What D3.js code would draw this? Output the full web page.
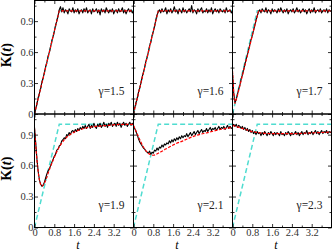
<!DOCTYPE html>
<html>
<head>
<meta charset="utf-8">
<script src="https://cdn.jsdelivr.net/npm/d3@7"></script>
<style>
  body { margin: 0; background: #fff; }
  svg { display: block; }
  svg text { font-family: "Liberation Serif", serif; }
  .tick line { stroke: #000; stroke-width: 0.8; }
</style>
</head>
<body>
<svg id="chart" width="332" height="252"></svg>
<script>
// sampling step of the measured curves (t axis)
const tStep = 0.05;

const gammaLabels = ["γ=1.5", "γ=1.6", "γ=1.7", "γ=1.9", "γ=2.1", "γ=2.3"];
const xTickLabels = [0, 0.8, 1.6, 2.4, 3.2];
const yTickLabels = [0, 0.3, 0.6, 0.9];

// measured K(t), one value every tStep starting at t = 0
const kG15 = [
  0.01, 0.05, 0.10, 0.16, 0.20, 0.25, 0.31, 0.35, 0.40, 0.46,
  0.50, 0.56, 0.60, 0.65, 0.71, 0.75, 0.80, 0.86, 0.90, 0.95,
  1.01, 1.04, 0.99, 1.03, 0.98, 1.01, 1.00, 0.97, 1.02, 1.00,
  0.99, 1.03, 0.98, 1.01, 0.99, 1.02, 0.97, 1.00, 1.01, 0.98,
  1.02, 0.99, 1.03, 0.98, 1.00, 1.01, 0.97, 1.02, 0.99, 1.00,
  1.02, 0.98, 1.01, 0.96, 1.02, 0.99, 1.01, 0.98, 1.03, 1.00,
  0.98, 1.01, 0.99, 1.02, 0.97, 1.00, 1.01, 0.98, 1.02, 0.99,
  1.00, 1.03, 0.98, 1.01, 0.97, 1.00, 1.02, 0.99, 1.01, 0.98,
  1.00
];
const kG16 = [
  0.03, 0.06, 0.11, 0.15, 0.21, 0.25, 0.30, 0.36, 0.40, 0.45,
  0.51, 0.55, 0.60, 0.66, 0.70, 0.76, 0.80, 0.85, 0.91, 0.96,
  0.99, 1.01, 0.98, 1.02, 0.99, 1.00, 1.03, 0.97, 1.01, 0.99,
  1.02, 0.98, 1.00, 1.04, 0.99, 1.01, 0.97, 1.02, 1.00, 0.98,
  1.03, 0.99, 1.01, 0.98, 1.00, 1.02, 0.99, 1.05, 0.98, 1.01,
  1.00, 0.97, 1.02, 0.99, 1.01, 1.03, 0.98, 1.00, 0.99, 1.02,
  0.98, 1.01, 0.99, 1.03, 0.97, 1.00, 1.02, 0.99, 1.01, 0.98,
  1.02, 1.00, 0.99, 1.01, 0.98, 1.03, 0.99, 1.00, 1.01, 0.98,
  1.00
];
const kG17 = [
  0.40, 0.20, 0.11, 0.14, 0.19, 0.24, 0.28, 0.34, 0.38, 0.43,
  0.48, 0.53, 0.57, 0.62, 0.67, 0.72, 0.76, 0.81, 0.86, 0.91,
  0.95, 0.99, 1.01, 0.98, 1.02, 1.00, 0.99, 1.03, 0.98, 1.01,
  1.00, 0.97, 1.02, 0.99, 1.01, 1.00, 0.98, 1.02, 0.99, 1.03,
  1.00, 0.98, 1.01, 0.99, 1.02, 0.97, 1.00, 1.01, 0.99, 1.02,
  0.98, 1.00, 1.03, 0.99, 1.01, 0.98, 1.00, 1.02, 0.99, 1.01,
  0.97, 1.00, 1.02, 0.98, 1.01, 0.99, 1.03, 0.98, 1.00, 1.01,
  0.99, 1.02, 0.98, 1.00, 1.01, 0.99, 1.02, 0.98, 1.01, 1.00,
  0.99
];
const kG19 = [
  0.97, 0.82, 0.66, 0.54, 0.46, 0.42, 0.40, 0.41, 0.44, 0.48,
  0.52, 0.55, 0.57, 0.60, 0.63, 0.66, 0.69, 0.71, 0.75, 0.76,
  0.79, 0.80, 0.84, 0.85, 0.87, 0.86, 0.90, 0.89, 0.92, 0.90,
  0.93, 0.94, 0.92, 0.95, 0.93, 0.96, 0.94, 0.97, 0.95, 0.98,
  0.96, 0.99, 0.96, 0.98, 1.00, 0.96, 0.99, 0.97, 1.01, 0.98,
  0.96, 1.00, 0.98, 1.01, 0.97, 0.99, 1.02, 0.98, 1.00, 0.97,
  1.01, 0.99, 1.02, 0.98, 1.00, 1.01, 0.98, 1.02, 0.99, 1.01,
  0.97, 1.00, 1.02, 0.99, 1.01, 0.98, 1.00, 1.02, 0.99, 1.01,
  0.99
];
const kG21 = [
  0.98, 0.96, 0.93, 0.90, 0.86, 0.83, 0.81, 0.79, 0.77, 0.76,
  0.74, 0.73, 0.72, 0.74, 0.71, 0.73, 0.72, 0.75, 0.74, 0.77,
  0.75, 0.78, 0.77, 0.80, 0.78, 0.81, 0.80, 0.82, 0.81, 0.84,
  0.82, 0.85, 0.83, 0.86, 0.84, 0.87, 0.85, 0.88, 0.86, 0.89,
  0.87, 0.89, 0.88, 0.91, 0.88, 0.90, 0.92, 0.89, 0.91, 0.93,
  0.90, 0.92, 0.94, 0.91, 0.93, 0.95, 0.92, 0.94, 0.93, 0.96,
  0.93, 0.95, 0.97, 0.94, 0.96, 0.95, 0.97, 0.94, 0.96, 0.98,
  0.95, 0.97, 0.96, 0.98, 0.95, 0.97, 0.99, 0.96, 0.98, 0.96,
  0.97
];
const kG23 = [
  0.99, 1.00, 0.98, 1.00, 0.97, 0.99, 0.98, 0.96, 0.98, 0.95,
  0.97, 0.94, 0.96, 0.93, 0.95, 0.92, 0.94, 0.91, 0.93, 0.90,
  0.93, 0.91, 0.92, 0.89, 0.92, 0.90, 0.93, 0.91, 0.89, 0.92,
  0.90, 0.93, 0.91, 0.89, 0.92, 0.90, 0.92, 0.91, 0.89, 0.93,
  0.90, 0.91, 0.89, 0.92, 0.90, 0.93, 0.91, 0.89, 0.92, 0.90,
  0.91, 0.93, 0.90, 0.92, 0.89, 0.91, 0.93, 0.90, 0.92, 0.91,
  0.94, 0.90, 0.92, 0.91, 0.93, 0.90, 0.92, 0.94, 0.91, 0.93,
  0.90, 0.92, 0.94, 0.91, 0.93, 0.92, 0.94, 0.91, 0.93, 0.92,
  0.93
];

// fitted curves (red dashed)
const fitT15 = [0, 1, 4];
const fitK15 = [0, 1, 1];
const fitT16 = [0, 1, 4];
const fitK16 = [0, 1, 1];
const fitT17 = [0, 0.05, 0.1, 0.2, 1.05, 4];
const fitK17 = [0.42, 0.2, 0.1, 0.18, 1.0, 1.0];
const fitT19 = [0, 0.1, 0.2, 0.3, 0.4, 0.6, 0.8, 1.0, 1.2, 1.5, 2.0, 2.5, 3.0, 3.5, 4.0];
const fitK19 = [0.96, 0.65, 0.46, 0.40, 0.43, 0.56, 0.68, 0.78, 0.85, 0.91, 0.96, 0.98, 0.99, 1.0, 1.0];
const fitT21 = [0, 0.2, 0.4, 0.6, 0.8, 1.0, 1.3, 1.6, 2.0, 2.5, 3.0, 3.5, 4.0];
const fitK21 = [0.99, 0.88, 0.78, 0.72, 0.70, 0.72, 0.76, 0.80, 0.84, 0.89, 0.92, 0.95, 0.97];
const fitT23 = [0, 0.4, 0.8, 1.2, 1.6, 2.0, 2.5, 3.0, 3.5, 4.0];
const fitK23 = [0.99, 0.96, 0.93, 0.915, 0.91, 0.91, 0.91, 0.915, 0.92, 0.925];

// reference ramp (cyan dashed), same in every panel
const rampT = [0, 1, 4];
const rampK = [0, 1, 1];

const panels = [
  { label: gammaLabels[0], k: kG15, fitT: fitT15, fitK: fitK15, smooth: false },
  { label: gammaLabels[1], k: kG16, fitT: fitT16, fitK: fitK16, smooth: false },
  { label: gammaLabels[2], k: kG17, fitT: fitT17, fitK: fitK17, smooth: false },
  { label: gammaLabels[3], k: kG19, fitT: fitT19, fitK: fitK19, smooth: true },
  { label: gammaLabels[4], k: kG21, fitT: fitT21, fitK: fitK21, smooth: true },
  { label: gammaLabels[5], k: kG23, fitT: fitT23, fitK: fitK23, smooth: true }
];

const marginLeft = 34.5, marginTop = 0.5;
const pw = 99, ph = 113.5;
const serif = 'Liberation Serif';

const svg = d3.select('#chart');

const x = d3.scaleLinear().domain([0, 4]).range([0, pw]);
const y = d3.scaleLinear().domain([0, 1.1]).range([ph, 0]);

const xMajor = [0, 0.8, 1.6, 2.4, 3.2, 4.0];
const xMinor = [0.4, 1.2, 2.0, 2.8, 3.6];
const yMajor = [0, 0.3, 0.6, 0.9];
const yMinor = [0.15, 0.45, 0.75, 1.05];

const fmt = d => d === 0 ? '0' : d3.format('.1f')(d);

panels.forEach((p, i) => {
  const col = i % 3, row = Math.floor(i / 3);
  const g = svg.append('g')
    .attr('transform', `translate(${marginLeft + col * pw},${marginTop + row * ph})`);

  g.append('clipPath').attr('id', 'clip' + i)
    .append('rect').attr('width', pw).attr('height', ph);

  const plot = g.append('g').attr('clip-path', `url(#clip${i})`);

  // cyan ramp
  plot.append('path')
    .attr('d', d3.line().x((d, j) => x(rampT[j])).y(d => y(d))(rampK))
    .attr('fill', 'none')
    .attr('stroke', '#4fdcd0')
    .attr('stroke-width', 1.5)
    .attr('stroke-dasharray', '5,3');

  // measured data
  plot.append('path')
    .attr('d', d3.line().x((d, j) => x(j * tStep)).y(d => y(d))(p.k))
    .attr('fill', 'none')
    .attr('stroke', '#000')
    .attr('stroke-width', 1.1)
    .attr('stroke-linejoin', 'round');

  // fit
  const fitLine = d3.line()
    .x((d, j) => x(p.fitT[j])).y(d => y(d))
    .curve(p.smooth ? d3.curveMonotoneX : d3.curveLinear);
  plot.append('path')
    .attr('d', fitLine(p.fitK))
    .attr('fill', 'none')
    .attr('stroke', '#ff0000')
    .attr('stroke-width', 1.2)
    .attr('stroke-dasharray', '3,1.5');

  // frame
  g.append('rect')
    .attr('width', pw).attr('height', ph)
    .attr('fill', 'none').attr('stroke', '#000').attr('stroke-width', 1);

  // inward ticks on all four sides
  const addAxis = (axisFn, scale, vals, size, tf, transform) => {
    const a = g.append('g').attr('transform', transform)
      .call(axisFn(scale).tickValues(vals).tickSize(-size).tickPadding(1)
        .tickFormat(tf));
    a.attr('font-family', serif).attr('font-size', 10.5);
    a.select('.domain').remove();
    a.selectAll('.tick text').attr('fill', '#333');
    return a;
  };
  const noLabel = () => '';

  const showX = row === 1, showY = col === 0;
  addAxis(d3.axisBottom, x, showX ? xTickLabels : xMajor, 3.5, showX ? fmt : noLabel, `translate(0,${ph})`);
  if (showX) addAxis(d3.axisBottom, x, [4.0], 3.5, noLabel, `translate(0,${ph})`);
  addAxis(d3.axisBottom, x, xMinor, 2, noLabel, `translate(0,${ph})`);
  addAxis(d3.axisTop, x, xMajor, 3.5, noLabel, 'translate(0,0)');
  addAxis(d3.axisTop, x, xMinor, 2, noLabel, 'translate(0,0)');
  addAxis(d3.axisLeft, y, yMajor, 3.5, showY ? fmt : noLabel, 'translate(0,0)');
  addAxis(d3.axisLeft, y, yMinor, 2, noLabel, 'translate(0,0)');
  addAxis(d3.axisRight, y, yMajor, 3.5, noLabel, `translate(${pw},0)`);
  addAxis(d3.axisRight, y, yMinor, 2, noLabel, `translate(${pw},0)`);

  // gamma label
  g.append('text')
    .attr('x', pw - 9).attr('y', ph - 19)
    .attr('text-anchor', 'end')
    .attr('font-family', serif).attr('font-size', 11.5).attr('fill', '#222')
    .text(p.label);

  if (showX) {
    g.append('text')
      .attr('x', pw / 2 - 6).attr('y', ph + 21.5)
      .attr('text-anchor', 'middle')
      .attr('font-family', serif).attr('font-size', 12).attr('font-style', 'italic')
      .text('t');
  }
  if (showY) {
    const yt = g.append('text')
      .attr('transform', `translate(${-24},${ph / 2 - 2}) rotate(-90)`)
      .attr('text-anchor', 'middle')
      .attr('font-family', serif).attr('font-size', 14).attr('font-weight', 'bold');
    yt.append('tspan').text('K(');
    yt.append('tspan').attr('font-style', 'italic').text('t');
    yt.append('tspan').text(')');
  }
});
</script>
</body>
</html>
